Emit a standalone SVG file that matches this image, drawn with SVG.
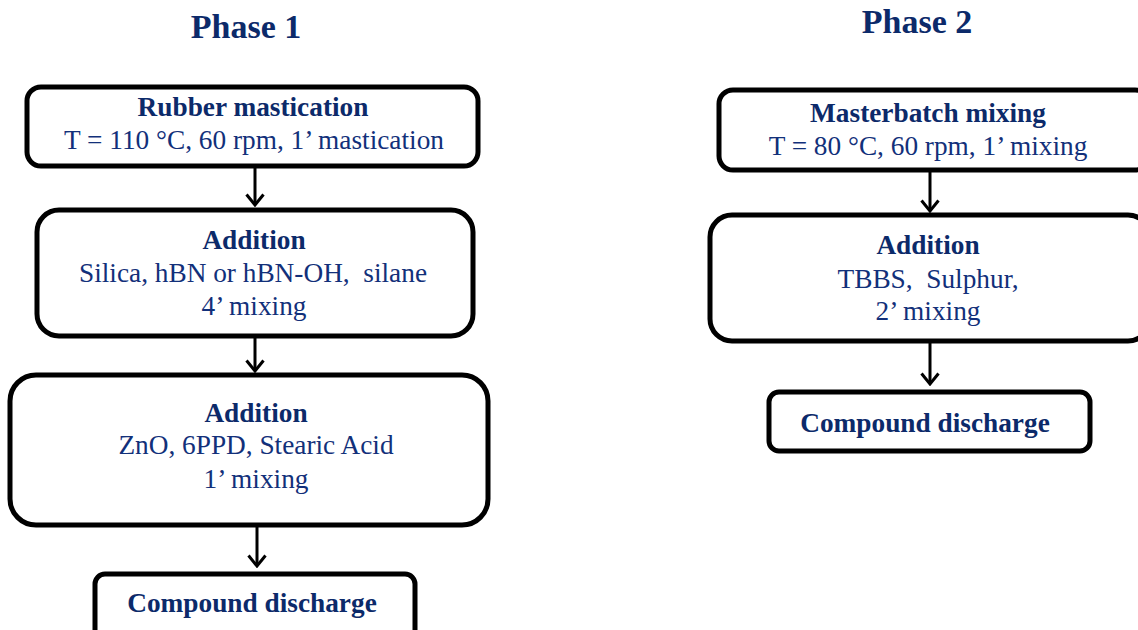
<svg xmlns="http://www.w3.org/2000/svg" width="1138" height="630" viewBox="0 0 1138 630">
<style>
.box{fill:#fff;stroke:#000;stroke-width:5}
.t{font-family:"Liberation Serif","Times New Roman",serif;font-size:27.3px;fill:#12307a;text-anchor:middle}
.b{font-weight:bold;fill:#0c2a6a}
.h{font-family:"Liberation Serif","Times New Roman",serif;font-size:34px;font-weight:bold;fill:#0c2a6a;text-anchor:middle}
.c{stroke:#000;stroke-width:3;fill:none}
</style>
<defs>
<marker id="ah" viewBox="0 0 14 20" refX="12" refY="10" markerWidth="14" markerHeight="20" markerUnits="userSpaceOnUse" orient="auto">
<path d="M1.5,1.5 L12,10 L1.5,18.5" fill="none" stroke="#000" stroke-width="3"/>
</marker>
</defs>
<rect width="1138" height="630" fill="#fff"/>
<text class="h" x="246" y="38">Phase 1</text>
<text class="h" x="917" y="33">Phase 2</text>
<g id="connectors">
<path class="c" d="M255,168 V205" marker-end="url(#ah)"/>
<path class="c" d="M255,338 V371" marker-end="url(#ah)"/>
<path class="c" d="M257,527 V566" marker-end="url(#ah)"/>
<path class="c" d="M930,172 V211" marker-end="url(#ah)"/>
<path class="c" d="M930,343 V384" marker-end="url(#ah)"/>
</g>
<g id="n1">
<rect class="box" x="27" y="87" width="451" height="79" rx="14"/>
<text class="t b" x="253" y="116">Rubber mastication</text>
<text class="t" x="254" y="149">T = 110 °C, 60 rpm, 1’ mastication</text>
</g>
<g id="n2">
<rect class="box" x="37" y="210" width="436" height="126" rx="22"/>
<text class="t b" x="254" y="249">Addition</text>
<text class="t" x="253" y="282" xml:space="preserve">Silica, hBN or hBN-OH,  silane</text>
<text class="t" x="254" y="315">4’ mixing</text>
</g>
<g id="n3">
<rect class="box" x="10" y="375" width="478" height="150" rx="26"/>
<text class="t b" x="256" y="422">Addition</text>
<text class="t" x="256" y="454">ZnO, 6PPD, Stearic Acid</text>
<text class="t" x="256" y="488">1’ mixing</text>
</g>
<g id="n4">
<rect class="box" x="95" y="574" width="320" height="70" rx="10"/>
<text class="t b" x="252" y="612">Compound discharge</text>
</g>
<g id="n5">
<rect class="box" x="719" y="90" width="430" height="80" rx="14"/>
<text class="t b" x="928" y="122">Masterbatch mixing</text>
<text class="t" x="928" y="155">T = 80 °C, 60 rpm, 1’ mixing</text>
</g>
<g id="n6">
<rect class="box" x="710" y="215" width="440" height="126" rx="22"/>
<text class="t b" x="928" y="254">Addition</text>
<text class="t" x="928" y="288" xml:space="preserve">TBBS,  Sulphur,</text>
<text class="t" x="928" y="320">2’ mixing</text>
</g>
<g id="n7">
<rect class="box" x="769" y="392" width="321" height="59" rx="10"/>
<text class="t b" x="925" y="432">Compound discharge</text>
</g>
</svg>
